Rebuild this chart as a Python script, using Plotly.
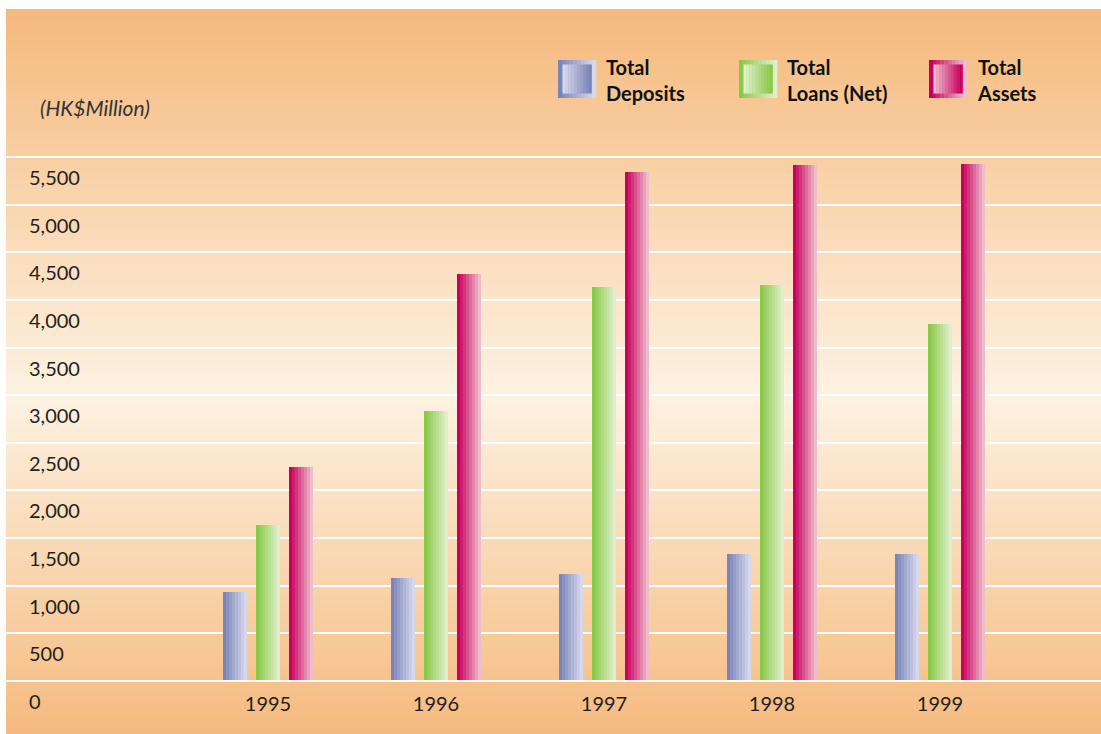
import plotly.graph_objects as go

# ---------------- data ----------------
years = ["1995", "1996", "1997", "1998", "1999"]
total_deposits = [924, 1079, 1121, 1331, 1331]
total_loans_net = [1635, 2833, 4128, 4156, 3747]
total_assets = [2245, 4272, 5343, 5417, 5427]
series_names = ["Total Deposits", "Total Loans (Net)", "Total Assets"]
legend_texts = ["Total<br>Deposits", "Total<br>Loans (Net)", "Total<br>Assets"]
y_tick_values = [0, 500, 1000, 1500, 2000, 2500, 3000, 3500, 4000, 4500, 5000, 5500]
y_tick_labels = ["0", "500", "1,000", "1,500", "2,000", "2,500", "3,000",
                 "3,500", "4,000", "4,500", "5,000", "5,500"]
unit_label = "(HK$Million)"

# ---------------- styling ----------------
W, H = 1101, 734
FONT = "Lato"
TXT = "#231f20"
left_px = 6
top_px = 9
baseline_px = 680.7
px_per_unit = 47.6 / 500.0
cat_px = 168.0
first_cat_px = 268.0

series_colors = [
    ((122, 132, 184), (216, 216, 236)),   # deposits
    ((138, 200, 72), (224, 240, 204)),    # loans
    ((200, 0, 94), (238, 188, 204)),      # assets
]
series_values = [total_deposits, total_loans_net, total_assets]
bar_w = 24.0 / cat_px
bar_off = 33.3 / cat_px
n_slices = 8


def mix(c0, c1, t):
    return "rgb(%d,%d,%d)" % tuple(round(a + (b - a) * t) for a, b in zip(c0, c1))


def px2x(px):
    return px / W


def px2y(py):
    return 1 - py / H


fig = go.Figure()

# bars made of vertical slices to simulate the horizontal gradient
x_idx = list(range(len(years)))
for s, (vals, (cl, cr), name) in enumerate(zip(series_values, series_colors, series_names)):
    centre_shift = (s - 1) * bar_off
    sw = bar_w / n_slices
    for k in range(n_slices):
        t = k / (n_slices - 1)
        off = centre_shift - bar_w / 2 + (k + 0.5) * sw
        fig.add_trace(go.Bar(
            x=[i + off for i in x_idx], y=vals, width=sw * 1.04,
            marker=dict(color=mix(cl, cr, t), line=dict(width=0)),
            name=name, showlegend=False, hoverinfo="skip" if k else "y",
        ))

# ---------------- background gradient ----------------
shapes = []
stops = [(top_px, (245, 185, 124)), (395, (253, 242, 226)), (H, (245, 186, 126))]


def bg_col(py):
    for (y0, c0), (y1, c1) in zip(stops[:-1], stops[1:]):
        if py <= y1:
            return mix(c0, c1, (py - y0) / (y1 - y0))
    return mix(stops[-1][1], stops[-1][1], 0)


step = 4
py = top_px
while py < H:
    y1 = min(py + step, H)
    shapes.append(dict(type="rect", xref="paper", yref="paper", layer="below",
                       x0=px2x(left_px), x1=1, y0=px2y(y1 + 0.6), y1=px2y(py),
                       fillcolor=bg_col(py + step / 2), line=dict(width=0)))
    py = y1

# ---------------- custom legend ----------------
legend_x = [558, 739, 929]
sw_y0 = 60
sw_size = 38
inset = 4.5
ann = []
for j in range(3):
    cd, cl_ = series_colors[j]
    x0 = legend_x[j]
    ns = 10
    # outer frame: dark -> light
    for k in range(ns):
        t = k / (ns - 1)
        shapes.append(dict(type="rect", xref="paper", yref="paper",
                           x0=px2x(x0 + k * sw_size / ns), x1=px2x(x0 + (k + 1) * sw_size / ns + 0.3),
                           y0=px2y(sw_y0 + sw_size), y1=px2y(sw_y0),
                           fillcolor=mix(cd, cl_, t), line=dict(width=0)))
    # inner square: light -> dark
    iw = sw_size - 2 * inset
    for k in range(ns):
        t = k / (ns - 1)
        shapes.append(dict(type="rect", xref="paper", yref="paper",
                           x0=px2x(x0 + inset + k * iw / ns), x1=px2x(x0 + inset + (k + 1) * iw / ns + 0.3),
                           y0=px2y(sw_y0 + sw_size - inset), y1=px2y(sw_y0 + inset),
                           fillcolor=mix(cl_, cd, t), line=dict(width=0)))
    ann.append(dict(text="<b>%s</b>" % legend_texts[j], x=px2x(x0 + 46), y=px2y(80),
                    xref="paper", yref="paper", align="left",
                    xanchor="left", yanchor="middle", showarrow=False,
                    font=dict(family=FONT, size=20, color="#111111")))

ann.append(dict(text="<i>%s</i>" % unit_label, x=px2x(38), y=px2y(108), xref="paper", yref="paper",
                xanchor="left", yanchor="middle", showarrow=False,
                font=dict(family=FONT, size=21, color="#333333")))

# ---------------- axes ----------------
y_min = -(H - baseline_px) / px_per_unit
y_max = 5530
dom_top = (H - (baseline_px - y_max * px_per_unit)) / H
x_r0 = -(first_cat_px - left_px) / cat_px
x_r1 = x_r0 + (W - left_px) / cat_px
label_shift = 21 / px_per_unit

fig.update_layout(
    width=W, height=H,
    margin=dict(l=0, r=0, t=0, b=0),
    paper_bgcolor="white", plot_bgcolor="rgba(0,0,0,0)",
    barmode="overlay", bargap=0,
    showlegend=False,
    shapes=shapes, annotations=ann,
    font=dict(family=FONT, size=20, color=TXT),
    xaxis=dict(domain=[px2x(left_px), 1], range=[x_r0, x_r1],
               tickvals=x_idx, ticktext=years, showgrid=False, zeroline=False,
               showline=False, anchor="free", position=(H - baseline_px) / H,
               ticks="", ticklabelstandoff=9,
               tickfont=dict(family=FONT, size=20, color=TXT)),
    yaxis=dict(domain=[0, dom_top], range=[y_min, y_max],
               tickvals=[v - label_shift for v in y_tick_values], ticktext=y_tick_labels,
               ticklabelposition="inside", ticklabelstandoff=20, ticks="",
               showgrid=False, zeroline=False, showline=False,
               tickfont=dict(family=FONT, size=20, color=TXT),
               minor=dict(tickmode="array", tickvals=y_tick_values, showgrid=True,
                          gridcolor="white", gridwidth=1.6, ticks="")),
)

fig.write_html("out.html", config={"displayModeBar": False})
